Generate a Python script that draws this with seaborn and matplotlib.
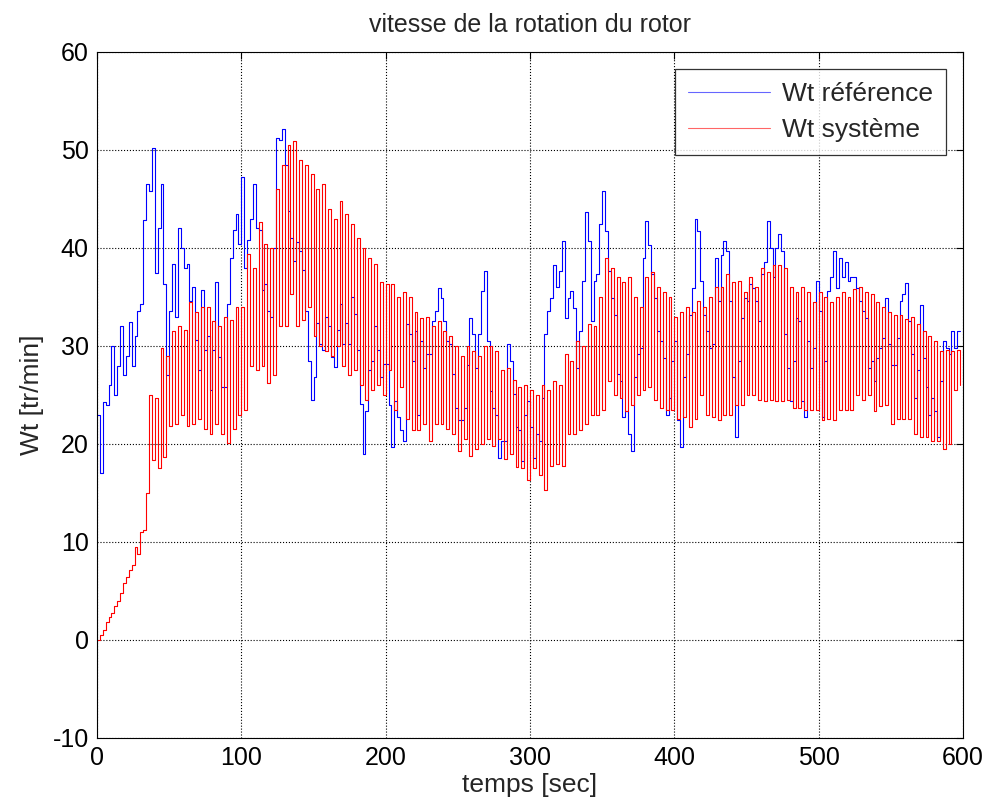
import numpy as np
import pandas as pd
import matplotlib
matplotlib.use("Agg")
import matplotlib.pyplot as plt
import seaborn as sns

# vitesse de référence, un point toutes les 2 s (t = 0 .. 598)
wt_reference = [
    23, 17, 24.3, 24, 26, 30, 25, 28, 32, 27,
    29, 32.4, 28, 31, 33.6, 34.3, 42.8, 46.5, 45.8, 50.2,
    37.4, 42, 46.5, 36.3, 27, 33.6, 38.4, 33, 42, 40,
    38, 38.4, 34.6, 36, 30.6, 27.5, 35.7, 29.6, 31, 25.5,
    29.6, 36.5, 28.9, 25.8, 25.8, 34.3, 39, 41.8, 43.5, 40.4,
    47.2, 38, 40.8, 43, 46.5, 42, 41.8, 35.7, 36.3, 33.6,
    33, 40, 51.2, 51, 52.1, 48.5, 43.8, 41, 38.7, 40.6,
    39.7, 37.7, 33.6, 28.5, 24.5, 26.8, 32.3, 30.2, 29.6, 33,
    32, 28.9, 27.9, 31.6, 34.3, 30.2, 32.3, 30.2, 35, 33.3,
    29.6, 24.1, 19, 23.4, 27.5, 28.5, 32, 29.6, 26.8, 28.2,
    28.2, 24, 19.7, 24.4, 22.7, 21.4, 20.3, 32.2, 31.2, 28.5,
    31.5, 23, 30.5, 27.8, 29.2, 29.2, 32.5, 33.6, 35.9, 34.9,
    32.5, 30.5, 30.2, 27.1, 23.7, 22.4, 22.4, 23.7, 28.1, 32.9,
    31.2, 27.8, 31.2, 35.6, 37.6, 30.5, 25.4, 23.7, 23, 18.6,
    20.3, 20.3, 30.2, 28.5, 25.1, 21.7, 21.4, 18.3, 23, 24.4,
    21.7, 18.6, 21, 20.3, 24.7, 31.2, 33.6, 34.9, 38.3, 36,
    37.6, 40.7, 32.9, 34.9, 35.6, 33.9, 27.8, 31.5, 36.6, 43.7,
    40.7, 32.5, 36.6, 37.3, 42.4, 45.8, 41.7, 37.6, 34.9, 33.2,
    27.1, 26.4, 22.7, 23.4, 21, 19.3, 26.8, 29.2, 29.8, 39,
    42.7, 40.3, 37.3, 34.9, 31.5, 30.5, 28.8, 23, 24.7, 28.5,
    30.5, 22.4, 19.7, 26.8, 29.2, 33.2, 35.9, 43, 41.7, 36.6,
    33.2, 31.5, 29.8, 30.2, 39, 34.6, 39.3, 40.7, 39.7, 34.6,
    26.8, 20.7, 28.5, 32.9, 34.9, 34.6, 36.3, 35.9, 34.6, 32.5,
    37.3, 38.6, 42.7, 40, 37, 40, 41.4, 39.7, 31.2, 27.8,
    24.4, 28.5, 32.9, 32.5, 24.4, 22.7, 30.5, 27.8, 29.8, 36.6,
    33.6, 22.7, 28.5, 35.6, 37, 39.7, 35.9, 39, 37, 38.6,
    36.6, 37, 37, 35.9, 34.6, 33.6, 32.9, 27.8, 28.5, 26.4,
    28.8, 29.8, 30.8, 34.9, 30.2, 28.1, 28.1, 30.8, 34.6, 35.3,
    36.4, 32.5, 29.2, 24.7, 27.5, 34.2, 28.8, 25.8, 23, 24.7,
    23.4, 20.7, 26.4, 30.5, 29.8, 29.2, 31.5, 29.8, 31.5, 31.5,
]

# montée du système au démarrage (t = 0 .. 34, pas de 2 s)
wt_demarrage = [0, 0.5, 1, 1.8, 2.3, 2.8, 3.5, 4, 4.8, 5.8,
                6.4, 7.1, 7.6, 9.5, 8.8, 11, 11.2, 15]

# niveaux hauts du système (t = 36, 40, ..., 596)
wt_systeme_haut = [
    25, 24.7, 29.8, 29, 31.5, 32, 31.6, 34.5, 33.5, 34,
    34, 32.5, 32, 33, 32.6, 34, 34, 39.4, 38, 42.6,
    40.4, 40, 46, 48.5, 50.5, 50.9, 49, 48.5, 47.5, 46,
    46.5, 44, 43, 44.8, 43.5, 42.4, 41, 40, 39, 38.4,
    36.5, 36.3, 36.3, 35, 35.5, 35, 33.5, 32.9, 33, 32,
    32.5, 31.5, 31, 30, 29, 30, 29.5, 29, 30, 30,
    29.5, 27.5, 27.8, 26.5, 25.8, 26, 25.5, 25, 26, 25.5,
    26.4, 26, 29.2, 28.5, 30.5, 30, 32.2, 32, 35, 39,
    38, 37, 36.5, 37, 35, 34, 37, 37.5, 36, 35.5,
    35, 33, 33.5, 34, 33.5, 34.6, 34, 35, 36, 36,
    37.3, 36.5, 36.6, 35.5, 37, 36, 38, 37.5, 38.3, 38.3,
    38, 36, 35.5, 36, 35.5, 34.5, 35.5, 35, 34.5, 35,
    35.5, 35, 35.8, 36, 35.5, 35.3, 34.5, 34, 33.5, 33.2,
    33.2, 32.8, 33, 32.2, 31.5, 31, 30.5, 29.5, 29.6, 29.5,
    29.6,
]

# niveaux bas du système (t = 38, 42, ..., 598)
wt_systeme_bas = [
    18.4, 17.5, 18.7, 21.8, 22, 23, 21.8, 22, 22.5, 21.5,
    21, 22, 21, 20.1, 21.5, 23, 23.5, 28, 27.5, 28,
    26.2, 27, 32, 32, 35.3, 32, 32.6, 34, 31, 30,
    29.5, 29, 30, 28, 27, 27.5, 26, 24.5, 25.5, 26,
    25, 27.5, 23.5, 25.8, 22.5, 21.4, 21.4, 22, 20.3, 22,
    22, 21.5, 21, 19.3, 20.5, 18.8, 19.5, 20, 20.5, 19.8,
    20.5, 18.5, 19, 17.6, 17.5, 16.3, 17.5, 16.8, 15.3, 17.8,
    18, 17.8, 21, 21, 21.4, 22, 23, 23, 23.5, 26.4,
    25, 24.7, 23.4, 24, 25, 25.5, 25.8, 24.5, 23.7, 23.5,
    23.5, 22.5, 22.8, 21.7, 22.5, 25, 23, 22.8, 22.4, 23,
    23, 24, 24, 25, 25, 24.5, 24.4, 24.5, 24.4, 24.4,
    24.5, 23.7, 23.7, 23.5, 23.5, 23.5, 22.4, 22.5, 22.4, 23.5,
    23.5, 23.5, 25, 24.5, 25, 23.4, 23.9, 24, 22, 22.5,
    22.5, 22.5, 21, 20.7, 20.7, 20.3, 20.3, 19.5, 20, 25.5,
    26,
]

t_ref = np.arange(0, 600, 2)
wt_systeme = list(wt_demarrage)
for haut, bas in zip(wt_systeme_haut, wt_systeme_bas):
    wt_systeme += [haut, bas]
t_sys = np.arange(0, 2 * len(wt_systeme), 2)

df_ref = pd.DataFrame({"temps": t_ref, "Wt": wt_reference})
df_sys = pd.DataFrame({"temps": t_sys, "Wt": wt_systeme})

sns.set_style("white")
plt.rcParams["font.family"] = ["Liberation Sans", "DejaVu Sans"]
plt.rcParams["axes.unicode_minus"] = False

fig = plt.figure(figsize=(9.92, 8.10), dpi=100)
ax = fig.add_axes([0.0978, 0.0889, 0.873, 0.847])

sns.lineplot(data=df_ref, x="temps", y="Wt", ax=ax, color="blue",
             linewidth=0.8, drawstyle="steps-post", label="Wt référence")
sns.lineplot(data=df_sys, x="temps", y="Wt", ax=ax, color="red",
             linewidth=0.8, drawstyle="steps-post", label="Wt système")

ax.set_xlim(0, 600)
ax.set_ylim(-10, 60)
ax.set_xticks(range(0, 601, 100))
ax.set_yticks(range(-10, 61, 10))
ax.grid(True, color="black", linestyle=":", linewidth=0.8)
for s in ax.spines.values():
    s.set_color("black")
    s.set_linewidth(0.8)
ax.tick_params(direction="in", length=5, top=True, right=True,
               labelsize=18, colors="black", pad=6)

ax.set_title("vitesse de la rotation du rotor", fontsize=18, pad=14)
ax.set_xlabel("temps [sec]", fontsize=19, labelpad=2)
ax.set_ylabel("Wt [tr/min]", fontsize=19, labelpad=6)

# légende encadrée en haut à droite
leg = ax.legend(loc="upper right", fontsize=19, frameon=True, fancybox=False,
                borderaxespad=0.65, handlelength=3.1, handletextpad=0.45,
                labelspacing=0.45, borderpad=0.5)
leg.get_frame().set_edgecolor("black")
leg.get_frame().set_linewidth(0.9)
for line in leg.get_lines():
    line.set_alpha(0.6)

fig.savefig("out.png", dpi=100, facecolor="white")
